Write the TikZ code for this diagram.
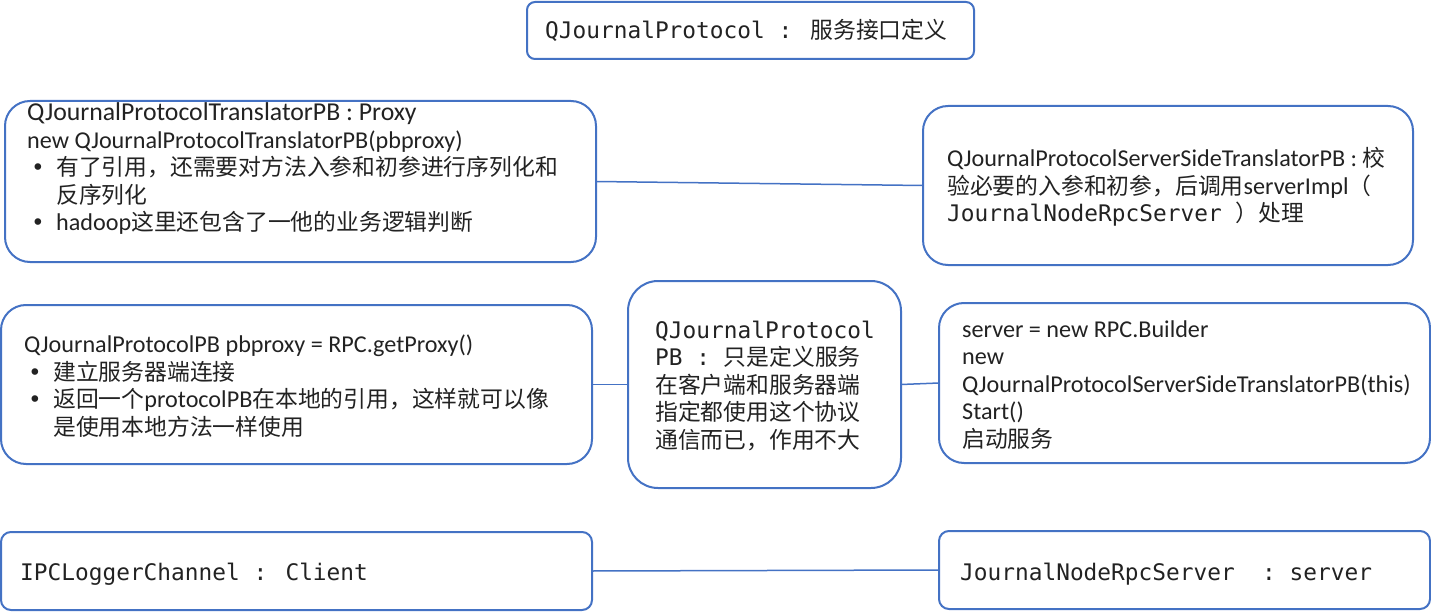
\documentclass[tikz,border=0pt]{standalone}
\usepackage{fontspec}
\setmainfont{Carlito}[Scale=1.06]
\newfontfamily\cjkfont{Noto Sans CJK SC}
\newfontfamily\monofont{DejaVu Sans Mono}

\definecolor{boxblue}{HTML}{4472C4}
\definecolor{inkgray}{HTML}{222222}
\newcommand{\mono}[1]{{\monofont #1}}
\newcommand{\zh}[1]{{\cjkfont #1}}
\newcommand{\bul}{\hspace*{4pt}\makebox[25pt][l]{\monofont •}}
\newcommand{\ind}{\hspace*{29pt}}

\begin{document}
\begin{tikzpicture}[x=1pt,y=-1pt,
   box/.style={draw=boxblue,line width=2pt,anchor=north west,inner sep=0pt,outer sep=0pt},
   txt/.style={anchor=base west,inner sep=0pt,align=left,text=inkgray,
               font=\fontsize{22.8}{27.5}\selectfont},
   link/.style={draw=boxblue,line width=1.5pt}]
   \useasboundingbox (0,0) rectangle (1431,612);
   % boxes
   \node[box,rounded corners=8pt,minimum width=447pt,minimum height=57pt] (proto) at (527,2) {};
   \node[box,rounded corners=25pt,minimum width=591pt,minimum height=161pt] (tpb) at (5,101) {};
   \node[box,rounded corners=25pt,minimum width=490pt,minimum height=159pt] (sst) at (923,106) {};
   \node[box,rounded corners=25pt,minimum width=591pt,minimum height=159pt] (pbproxy) at (1,305) {};
   \node[box,rounded corners=30pt,minimum width=273pt,minimum height=207pt] (pb) at (628,281) {};
   \node[box,rounded corners=25pt,minimum width=491pt,minimum height=160pt] (builder) at (939,303) {};
   \node[box,rounded corners=10pt,minimum width=591pt,minimum height=78pt] (client) at (1,532) {};
   \node[box,rounded corners=10pt,minimum width=491pt,minimum height=78pt] (server) at (939,531) {};
   % texts (anchored at the baseline of the last line)
   \node[txt] (protot) at (545,39) {\mono{QJournalProtocol : }\zh{服务接口定义}};
   \node[txt] (tpbt) at (27,231) {{\fontsize{24.3}{27.5}\selectfont QJournalProtocolTranslatorPB : Proxy}\\
      new QJournalProtocolTranslatorPB(pbproxy)\\
      \bul\zh{有了引用，还需要对方法入参和初参进行序列化和}\\
      \ind\zh{反序列化}\\
      \bul hadoop\zh{这里还包含了一他的业务逻辑判断}};
   \node[txt] (sstt) at (947,222) {QJournalProtocolServerSideTranslatorPB : \zh{校}\\
      \zh{验必要的入参和初参，后调用}serverImpl\zh{（}\\
      \mono{JournalNodeRpcServer }\zh{）处理}};
   \node[txt] (pbproxyt) at (24,435) {QJournalProtocolPB pbproxy = RPC.getProxy()\\
      \bul\zh{建立服务器端连接}\\
      \bul\zh{返回一个}protocolPB\zh{在本地的引用，这样就可以像}\\
      \ind\zh{是使用本地方法一样使用}};
   \node[txt] (pbt) at (655,448) {\mono{QJournalProtocol}\\
      \mono{PB : }\zh{只是定义服务}\\
      \zh{在客户端和服务器端}\\
      \zh{指定都使用这个协议}\\
      \zh{通信而已，作用不大}};
   \node[txt] (buildert) at (962,447) {server = new RPC.Builder\\
      new\\
      QJournalProtocolServerSideTranslatorPB(this)\\
      Start()\\
      \zh{启动服务}};
   \node[txt] (clientt) at (20,580) {\mono{IPCLoggerChannel : Client}};
   \node[txt] (servert) at (960,580) {\mono{JournalNodeRpcServer~~:~server}};
   % connectors
   \draw[link] (tpb.east) -- (sst.west);
   \draw[link] (pbproxy.east) -- (pb.west);
   \draw[link] (pb.east) -- (builder.west);
   \draw[link] (client.east) -- (server.west);
\end{tikzpicture}
\end{document}
